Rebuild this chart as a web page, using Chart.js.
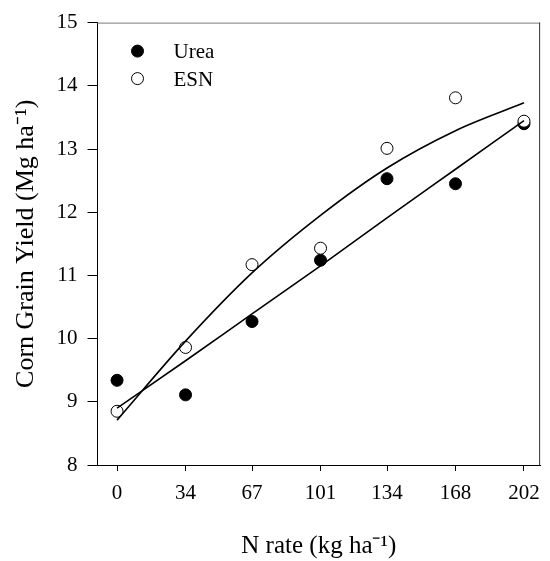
<!DOCTYPE html>
<html>
<head>
<meta charset="utf-8">
<script src="https://cdn.jsdelivr.net/npm/chart.js@4.4.1/dist/chart.umd.min.js"></script>
<style>
    html, body { margin: 0; padding: 0; background: #ffffff; }
    canvas { display: block; }
</style>
</head>
<body>
<canvas id="yieldChart" width="550" height="561"></canvas>
<script>
// N rates (kg/ha) - x values and x-axis ticks
const nRates = [0, 34, 67, 101, 134, 168, 202];
const yTicks = [8, 9, 10, 11, 12, 13, 14, 15];

// Measured corn grain yield (Mg/ha)
const ureaYield = [9.34, 9.11, 10.27, 11.24, 12.53, 12.45, 13.40];
const esnYield = [8.85, 9.86, 11.17, 11.43, 13.01, 13.81, 13.44];

// Fitted response curves, taken at each N rate
const ureaFit = [8.90, 9.65, 10.39, 11.15, 11.91, 12.68, 13.45];
const esnFit = [8.71, 9.96, 11.04, 11.95, 12.70, 13.29, 13.73];

const serif = "'Liberation Serif', 'Times New Roman', serif";
const toPoints = (ys) => nRates.map((x, i) => ({ x: x, y: ys[i] }));

// Top and right frame lines of the plot box
const frameLines = {
    id: "frameLines",
    afterDraw(chart) {
        const { ctx, chartArea: a } = chart;
        ctx.save();
        ctx.lineWidth = 1;
        ctx.strokeStyle = "#7a7a7a";
        ctx.beginPath();
        ctx.moveTo(a.left, a.top + 0.5);
        ctx.lineTo(a.right, a.top + 0.5);
        ctx.stroke();
        ctx.strokeStyle = "#333333";
        ctx.beginPath();
        ctx.moveTo(a.right - 0.5, a.top);
        ctx.lineTo(a.right - 0.5, a.bottom);
        ctx.stroke();
        ctx.restore();
    },
};

// Legend drawn inside the top-left corner of the plot
const insetLegend = {
    id: "insetLegend",
    afterDraw(chart) {
        const { ctx, chartArea: a } = chart;
        const items = chart.data.datasets.filter((ds) => ds.showInLegend);
        ctx.save();
        items.forEach((ds, i) => {
            const cy = a.top + 28.5 + i * 27.5;
            ctx.beginPath();
            ctx.arc(a.left + 40, cy, ds.pointRadius, 0, Math.PI * 2);
            ctx.fillStyle = ds.pointBackgroundColor;
            ctx.fill();
            ctx.lineWidth = ds.pointBorderWidth;
            ctx.strokeStyle = ds.pointBorderColor;
            ctx.stroke();
            ctx.fillStyle = "#000000";
            ctx.font = "21px " + serif;
            ctx.textBaseline = "middle";
            ctx.textAlign = "left";
            ctx.fillText(ds.label, a.left + 76, cy + 1.5);
        });
        ctx.restore();
    },
};

const ctx = document.getElementById("yieldChart").getContext("2d");

const yieldChart = new Chart(ctx, {
    type: "scatter",
    data: {
        datasets: [
            {
                label: "Urea fit",
                data: toPoints(ureaFit),
                showLine: true,
                borderColor: "#000000",
                borderWidth: 1.6,
                cubicInterpolationMode: "monotone",
                pointRadius: 0,
                order: 0,
            },
            {
                label: "ESN fit",
                data: toPoints(esnFit),
                showLine: true,
                borderColor: "#000000",
                borderWidth: 1.6,
                cubicInterpolationMode: "monotone",
                pointRadius: 0,
                order: 0,
            },
            {
                label: "Urea",
                showInLegend: true,
                data: toPoints(ureaYield),
                pointRadius: 6,
                pointBackgroundColor: "#000000",
                pointBorderColor: "#000000",
                pointBorderWidth: 1,
                order: 2,
            },
            {
                label: "ESN",
                showInLegend: true,
                data: toPoints(esnYield),
                pointRadius: 6,
                pointBackgroundColor: "#ffffff",
                pointBorderColor: "#000000",
                pointBorderWidth: 1,
                order: 1,
            },
        ],
    },
    options: {
        responsive: false,
        animation: false,
        layout: {
            padding: { top: 14, right: 1.5, left: 0, bottom: 0 },
        },
        plugins: {
            legend: { display: false },
            tooltip: { enabled: false },
        },
        scales: {
            x: {
                type: "linear",
                min: -9.7,
                max: 210,
                afterBuildTicks: (scale) => {
                    scale.ticks = nRates.map((v) => ({ value: v }));
                },
                afterFit: (scale) => {
                    scale.height = 96;
                },
                title: {
                    display: true,
                    text: "N rate (kg ha\u207B\u00B9)",
                    font: { size: 25, family: serif },
                    color: "#000000",
                    padding: { top: 0, bottom: 0 },
                },
                ticks: {
                    font: { size: 21, family: serif },
                    color: "#000000",
                    padding: 10,
                    maxRotation: 0,
                },
                grid: {
                    drawOnChartArea: false,
                    drawTicks: true,
                    tickLength: 6,
                    color: "#000000",
                },
                border: { color: "#000000", width: 1 },
            },
            y: {
                type: "linear",
                min: 8,
                max: 15,
                afterBuildTicks: (scale) => {
                    scale.ticks = yTicks.map((v) => ({ value: v }));
                },
                afterFit: (scale) => {
                    scale.width = 97.5;
                },
                title: {
                    display: true,
                    text: "Corn Grain Yield (Mg ha\u207B\u00B9)",
                    font: { size: 26, family: serif },
                    color: "#000000",
                    padding: { top: 11, bottom: 0 },
                },
                ticks: {
                    font: { size: 21, family: serif },
                    color: "#000000",
                    padding: 10,
                },
                grid: {
                    drawOnChartArea: false,
                    drawTicks: true,
                    tickLength: 10,
                    color: "#000000",
                },
                border: { color: "#000000", width: 1 },
            },
        },
    },
    plugins: [frameLines, insetLegend],
});
</script>
</body>
</html>
